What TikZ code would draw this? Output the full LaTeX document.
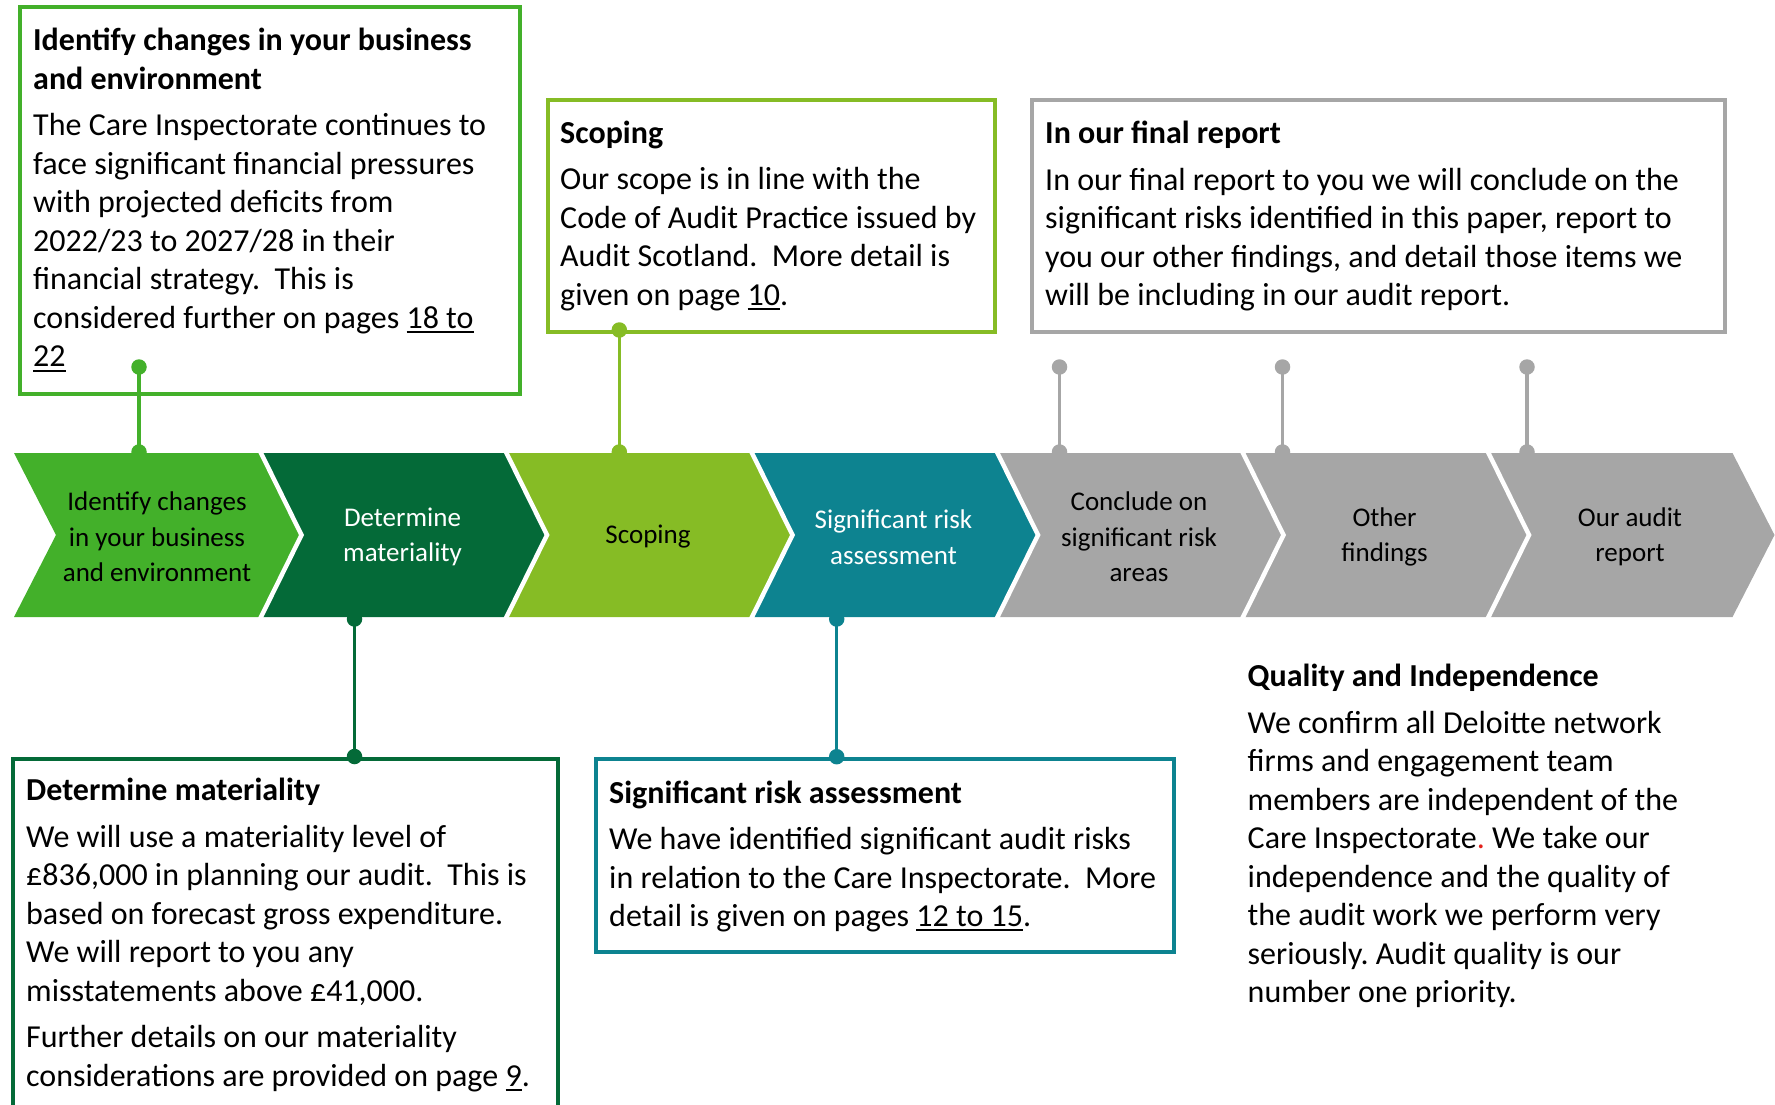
\documentclass[tikz,border=0pt]{standalone}
\usepackage{fontspec}
\setmainfont{Carlito}

\definecolor{gBright}{HTML}{43B02A}
\definecolor{gDark}{HTML}{046A38}
\definecolor{gLime}{HTML}{86BC25}
\definecolor{tTeal}{HTML}{0D8390}
\definecolor{gGrey}{HTML}{A6A6A6}
\definecolor{dotRed}{HTML}{E3211B}

% underlined page reference with a heavier rule
\newcommand\pgref[1]{\setbox0\hbox{#1}\rlap{\rule[-4.8pt]{\wd0}{2pt}}\box0}

\begin{document}
\frenchspacing
\begin{tikzpicture}[x=1pt,y=-1pt,
  chevtext/.style={align=center,inner sep=0,font=\fontsize{27}{35.5}\selectfont},
  infobox/.style={draw,line width=4pt,inner sep=0,anchor=north west},
  boxtext/.style={anchor=north west,align=left,inner sep=0,font=\fontsize{32}{38.5}\selectfont},
  dot/.style={circle,fill,inner sep=0,minimum size=15.5pt},
  link/.style={line width=3.2pt}]

\clip (0,0) rectangle (1775,1105);

% ---------- information boxes ----------
\node[infobox,draw=gBright,minimum width=499.5pt,minimum height=386.5pt] (b1) at (18,5.5) {};
\node[infobox,draw=gLime,minimum width=447.5pt,minimum height=231.5pt] (b2) at (545.5,98.5) {};
\node[infobox,draw=gGrey,minimum width=693pt,minimum height=231.5pt] (b3) at (1030,98.5) {};
\node[infobox,draw=gDark,minimum width=545pt,minimum height=400pt] (b4) at (11,756.5) {};
\node[infobox,draw=tTeal,minimum width=578pt,minimum height=193pt] (b5) at (594,756.7) {};

\node[boxtext] (t1) at (33,28) {\textbf{Identify changes in your business}\\
  \textbf{and environment}\\[8pt]
  The Care Inspectorate continues to\\
  face significant financial pressures\\
  with projected deficits from\\
  2022/23 to 2027/28 in their\\
  financial strategy.\ \ This is\\
  considered further on pages \pgref{18 to}\\
  \pgref{22}};

\node[boxtext] (t2) at (560,120.8) {\textbf{Scoping}\\[8pt]
  Our scope is in line with the\\
  Code of Audit Practice issued by\\
  Audit Scotland.\ \ More detail is\\
  given on page \pgref{10}.};

\node[boxtext] (t3) at (1045,120.8) {\textbf{In our final report}\\[8pt]
  In our final report to you we will conclude on the\\
  significant risks identified in this paper, report to\\
  you our other findings, and detail those items we\\
  will be including in our audit report.};

\node[boxtext] (t4) at (26,778) {\textbf{Determine materiality}\\[8pt]
  We will use a materiality level of\\
  £836,000 in planning our audit.\ \ This is\\
  based on forecast gross expenditure.\\
  We will report to you any\\
  misstatements above £41,000.\\[8pt]
  Further details on our materiality\\
  considerations are provided on page \pgref{9}.};

\node[boxtext] (t5) at (609,780.4) {\textbf{Significant risk assessment}\\[8pt]
  We have identified significant audit risks\\
  in relation to the Care Inspectorate.\ \ More\\
  detail is given on pages \pgref{12 to 15}.};

\node[boxtext] (t6) at (1247.5,664.3) {\textbf{Quality and Independence}\\[8pt]
  We confirm all Deloitte network\\
  firms and engagement team\\
  members are independent of the\\
  Care Inspectorate{\color{dotRed}.} We take our\\
  independence and the quality of\\
  the audit work we perform very\\
  seriously. Audit quality is our\\
  number one priority.};

% ---------- connector end points ----------
\coordinate (a1) at (139,367);    \coordinate (e1) at (139,452);
\coordinate (a2) at (619.3,330);  \coordinate (e2) at (619.3,452);
\coordinate (a3) at (1059.5,367); \coordinate (e3) at (1059.5,452);
\coordinate (a4) at (1282.5,367); \coordinate (e4) at (1282.5,452);
\coordinate (a5) at (1527,367);   \coordinate (e5) at (1527,452);
\coordinate (a6) at (354.5,756.5);\coordinate (e6) at (354.5,619);
\coordinate (a7) at (836.7,756.7);\coordinate (e7) at (836.7,619);

\foreach \i/\c in {1/gBright,2/gLime,3/gGrey,4/gGrey,5/gGrey,6/gDark,7/tTeal}{
  \draw[link,\c] (a\i) -- (e\i);
  \node[dot,fill=\c] at (a\i) {};
}

% ---------- chevron process row ----------
\foreach \i/\c in {0/gBright,1/gDark,2/gLime,3/tTeal,4/gGrey,5/gGrey,6/gGrey}{
  \pgfmathsetmacro\L{14+245.5*\i}
  \fill[\c] (\L,453) -- ++(245.5,0) -- ++(42,82) -- ++(-42,82)
    -- ++(-245.5,0) -- ++(42,-82) -- cycle;
}
% white separators between neighbouring chevrons
\foreach \i in {1,...,6}{
  \pgfmathsetmacro\L{14+245.5*\i}
  \draw[white,line width=4.5pt,line join=miter] (\L,450) -- ++(42,85) -- ++(-42,85);
}

% dots where the connectors meet the chevrons
\foreach \i/\c in {1/gBright,2/gLime,3/gGrey,4/gGrey,5/gGrey,6/gDark,7/tTeal}{
  \node[dot,fill=\c] at (e\i) {};
}

\node[chevtext,text=black] (c1) at (157,537) {Identify changes\\in your business\\and environment};
\node[chevtext,text=white] (c2) at (402.5,537) {Determine\\materiality};
\node[chevtext,text=black] (c3) at (648,537) {Scoping};
\node[chevtext,text=white] (c4) at (893.5,537) {Significant risk\\assessment};
\node[chevtext,text=black] (c5) at (1139,537) {Conclude on\\significant risk\\areas};
\node[chevtext,text=black] (c6) at (1384.5,537) {Other\\findings};
\node[chevtext,text=black] (c7) at (1630,537) {Our audit\\report};

\end{tikzpicture}
\end{document}
